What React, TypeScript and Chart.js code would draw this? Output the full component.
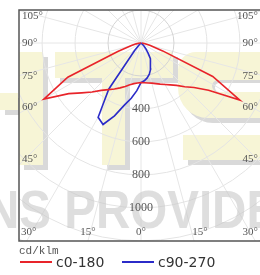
import React, { useEffect, useRef } from 'react';
import { Chart, registerables } from 'chart.js';

Chart.register(...registerables);

// gamma angles (degrees from nadir) for every value below
const gammaAngles = [0, 5, 10, 15, 20, 25, 30, 35, 40, 45, 50, 55, 60, 65, 70, 75, 80, 85, 90,
  95, 100, 105, 110, 115, 120, 125, 130, 135, 140, 145, 150, 155, 160, 165, 170, 175, 180];

// luminous intensity, cd/klm
const redC0 = [240, 242, 246, 252, 262, 275, 290, 310, 335, 375, 420, 500, 692, 480, 140, 55, 25, 12, 5,
  0, 0, 0, 0, 0, 0, 0, 0, 0, 0, 0, 0, 0, 0, 0, 0, 0, 0];
const redC180 = [240, 243, 250, 262, 280, 300, 322, 345, 375, 420, 470, 535, 680, 490, 150, 60, 30, 15, 5,
  0, 0, 0, 0, 0, 0, 0, 0, 0, 0, 0, 0, 0, 0, 0, 0, 0, 0];
const blueC90 = [240, 230, 215, 195, 170, 140, 110, 75, 45, 25, 10, 3, 0,
  0, 0, 0, 0, 0, 0, 0, 0, 0, 0, 0, 0, 0, 0, 0, 0, 0, 0, 0, 0, 0, 0, 0, 0];
const blueC270 = [240, 290, 340, 390, 470, 545, 520, 340, 60, 15, 5, 0, 0,
  0, 0, 0, 0, 0, 0, 0, 0, 0, 0, 0, 0, 0, 0, 0, 0, 0, 0, 0, 0, 0, 0, 0, 0];

const seriesNames = ['c0-180', 'c90-270'];
const seriesColors = ['#e8242a', '#2b2bc8'];
const gridRadii = [200, 400, 600, 800, 1000, 1200, 1400];
const radialTickValues = [400, 600, 800, 1000];
const sideAngleLabels = [105, 90, 75, 60, 45];
const bottomAngleLabels = [30, 15, 0];
const unitLabel = 'cd/klm';
const watermarkText = 'NS PROVIDE';

const X_RANGE = 740;
const Y_MIN = -1200;
const Y_MAX = 200;

function toPoints(left: number[], right: number[]) {
  const pts: { x: number; y: number }[] = [];
  for (let i = gammaAngles.length - 1; i >= 0; i--) {
    const g = (gammaAngles[i] * Math.PI) / 180;
    pts.push({ x: -left[i] * Math.sin(g), y: -left[i] * Math.cos(g) });
  }
  for (let i = 0; i < gammaAngles.length; i++) {
    const g = (gammaAngles[i] * Math.PI) / 180;
    pts.push({ x: right[i] * Math.sin(g), y: -right[i] * Math.cos(g) });
  }
  return pts;
}

const SERIF = '"Liberation Serif", "Times New Roman", serif';

const polarPlugin = {
  id: 'polarFrame',
  beforeDatasetsDraw(chart: any) {
    const { ctx, chartArea: a, scales } = chart;
    const xs = scales.x, ys = scales.y;
    const cx = xs.getPixelForValue(0), cy = ys.getPixelForValue(0);
    const k = (xs.getPixelForValue(100) - cx) / 100;
    ctx.save();
    ctx.beginPath();
    ctx.rect(a.left, a.top, a.right - a.left, a.bottom - a.top);
    ctx.clip();
    ctx.strokeStyle = '#e6e6e6';
    ctx.lineWidth = 1;
    for (let d = 0; d < 360; d += 15) {
      const t = (d * Math.PI) / 180;
      ctx.beginPath();
      ctx.moveTo(cx, cy);
      ctx.lineTo(cx + Math.sin(t) * 600, cy + Math.cos(t) * 600);
      ctx.stroke();
    }
    gridRadii.forEach((r) => {
      ctx.strokeStyle = r === 200 ? '#d4d4d4' : '#e4e4e4';
      ctx.beginPath();
      ctx.arc(cx, cy, r * k, 0, Math.PI * 2);
      ctx.stroke();
    });
    ctx.restore();
  },
  afterDatasetsDraw(chart: any) {
    const { ctx, chartArea: a, scales } = chart;
    const xs = scales.x, ys = scales.y;
    const cx = xs.getPixelForValue(0), cy = ys.getPixelForValue(0);
    ctx.save();
    // watermark text
    ctx.save();
    ctx.fillStyle = 'rgba(200,200,200,0.6)';
    ctx.font = 'bold 54px "Liberation Sans", Arial, sans-serif';
    ctx.textBaseline = 'alphabetic';
    ctx.textAlign = 'left';
    ctx.translate(-15, 228);
    ctx.scale(0.88, 1);
    ctx.fillText(watermarkText, 0, 0);
    ctx.restore();

    ctx.fillStyle = '#555';
    ctx.font = '12px ' + SERIF;
    ctx.textAlign = 'center';
    ctx.textBaseline = 'middle';
    radialTickValues.forEach((v) => {
      ctx.fillText(String(v), cx, ys.getPixelForValue(-v));
    });
    ctx.font = '11px ' + SERIF;
    sideAngleLabels.forEach((deg) => {
      const t = (deg * Math.PI) / 180;
      const dx = cx - a.left;
      let y = cy + (dx * Math.cos(t)) / Math.sin(t);
      if (deg <= 60) y -= 6;
      y = Math.max(a.top + 6, y);
      const txt = deg + '°';
      ctx.textAlign = 'left';
      ctx.fillText(txt, a.left + 3, y);
      ctx.textAlign = 'right';
      ctx.fillText(txt, 258, y);
    });
    bottomAngleLabels.forEach((deg) => {
      const t = (deg * Math.PI) / 180;
      const dy = a.bottom - cy;
      const off = dy * Math.tan(t);
      const txt = deg + '°';
      const y = a.bottom - 9;
      ctx.textAlign = 'center';
      const wHalf = ctx.measureText(txt).width / 2;
      const xl = Math.max(a.left + 2 + wHalf, cx - off);
      ctx.fillText(txt, xl, y);
      if (deg !== 0) {
        const xr = Math.min(258 - wHalf, cx + off + 6);
        ctx.fillText(txt, xr, y);
      }
    });
    ctx.strokeStyle = '#555';
    ctx.lineWidth = 1.5;
    ctx.beginPath();
    ctx.moveTo(a.right, a.top);
    ctx.lineTo(a.left, a.top);
    ctx.lineTo(a.left, a.bottom);
    ctx.lineTo(a.right, a.bottom);
    ctx.stroke();
    ctx.fillStyle = '#555';
    ctx.font = '11px "Liberation Mono", "Courier New", monospace';
    ctx.textAlign = 'left';
    ctx.textBaseline = 'middle';
    ctx.fillText(unitLabel, a.left, a.bottom + 10);
    ctx.restore();
  },
};

const logoPlugin = {
  id: 'logoBg',
  beforeDraw(chart: any) {
    const { ctx } = chart;
    ctx.save();
    // [x, y, w, h, radii]
    const shapes: [number, number, number, number, number[]][] = [
      [0, 93, 18, 17, [0]],
      [19, 52, 24, 113, [0]],
      [55, 52, 118, 26, [0]],
      [102, 78, 23, 87, [0]],
      [178, 52, 90, 66, [18, 0, 0, 30]],
      [183, 135, 90, 25, [0]],
    ];
    const draw = (dx: number, dy: number, color: string) => {
      ctx.fillStyle = color;
      shapes.forEach(([x, y, w, h, r]) => {
        ctx.beginPath();
        ctx.roundRect(x + dx, y + dy, w, h, r);
        ctx.fill();
      });
    };
    draw(5, 5, '#d9d9d9');
    draw(0, 0, '#f7f5d6');
    // inner notch of the right letter
    ctx.fillStyle = '#d9d9d9';
    ctx.beginPath();
    ctx.roundRect(212, 80, 60, 12, [6, 0, 0, 6]);
    ctx.fill();
    ctx.fillStyle = '#ffffff';
    ctx.beginPath();
    ctx.roundRect(215, 83, 60, 9, [5, 0, 0, 5]);
    ctx.fill();
    ctx.restore();
  },
};

function LegendItem({ name, color, left }: { name: string; color: string; left: number }) {
  return (
    <div style={{ position: 'absolute', left, top: 254, height: 16, display: 'flex', alignItems: 'center' }}>
      <div style={{ width: 32, height: 2, background: color, marginRight: 4 }} />
      <span style={{ font: '14px "DejaVu Sans", sans-serif', color: '#333', lineHeight: '16px' }}>{name}</span>
    </div>
  );
}

export default function App() {
  const ref = useRef<HTMLCanvasElement | null>(null);
  useEffect(() => {
    if (!ref.current) return;
    const chart = new Chart(ref.current, {
      type: 'scatter',
      data: {
        datasets: [
          {
            label: seriesNames[0],
            data: toPoints(redC180, redC0),
            borderColor: seriesColors[0],
            backgroundColor: seriesColors[0],
            showLine: true,
            borderWidth: 1.6,
            pointRadius: 0,
            tension: 0,
          },
          {
            label: seriesNames[1],
            data: toPoints(blueC270, blueC90),
            borderColor: seriesColors[1],
            backgroundColor: seriesColors[1],
            showLine: true,
            borderWidth: 1.6,
            pointRadius: 0,
            tension: 0,
          },
        ],
      },
      options: {
        responsive: false,
        animation: false,
        devicePixelRatio: 1,
        layout: { padding: { left: 19, top: 10, right: 1, bottom: 34 } },
        scales: {
          x: { type: 'linear', min: -X_RANGE, max: X_RANGE, display: false },
          y: { type: 'linear', min: Y_MIN, max: Y_MAX, display: false },
        },
        plugins: {
          tooltip: { enabled: false },
          legend: { display: false },
        },
      },
      plugins: [logoPlugin, polarPlugin],
    });
    return () => chart.destroy();
  }, []);
  return (
    <div style={{ position: 'absolute', left: 0, top: 0, width: 260, height: 275, overflow: 'hidden', background: '#fff' }}>
      <canvas ref={ref} width={264} height={275} style={{ display: 'block' }} />
      <LegendItem name={seriesNames[0]} color={seriesColors[0]} left={20} />
      <LegendItem name={seriesNames[1]} color={seriesColors[1]} left={122} />
    </div>
  );
}
